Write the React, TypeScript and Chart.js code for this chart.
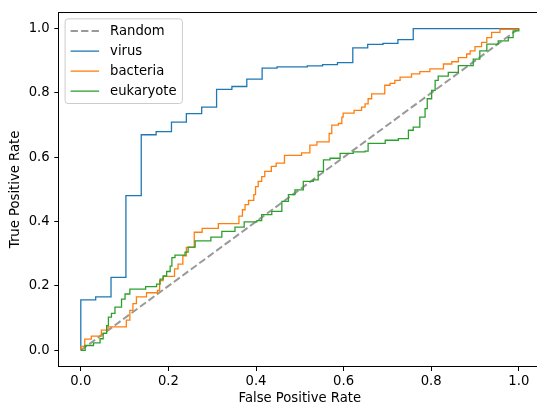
import React, { useEffect, useRef } from 'react';
import { Chart, registerables } from 'chart.js';

Chart.register(...registerables);

// ---------- data ----------
const randomFpr = [0, 1];
const randomTpr = [0, 1];

const virusFpr = [0, 0, 0.034, 0.069, 0.103, 0.138, 0.172, 0.207, 0.241, 0.276, 0.310, 0.345, 0.379, 0.414, 0.448, 0.517, 0.552, 0.586, 0.621, 0.655, 0.690, 0.724, 0.759, 1.0];
const virusTpr = [0, 0.157, 0.166, 0.227, 0.481, 0.670, 0.680, 0.709, 0.736, 0.756, 0.811, 0.820, 0.843, 0.877, 0.881, 0.884, 0.888, 0.894, 0.940, 0.951, 0.954, 0.966, 1.0, 1.0];

const bacteriaFpr = [0, 0, 0.009, 0.024, 0.047, 0.062, 0.104, 0.112, 0.119, 0.127, 0.150, 0.175, 0.180, 0.188, 0.214, 0.222, 0.233, 0.241, 0.259, 0.277, 0.314, 0.361, 0.369, 0.375, 0.383, 0.395, 0.399, 0.405, 0.413, 0.420, 0.435, 0.446, 0.465, 0.504, 0.523, 0.539, 0.567, 0.573, 0.588, 0.596, 0.599, 0.624, 0.641, 0.649, 0.656, 0.664, 0.694, 0.706, 0.717, 0.729, 0.755, 0.774, 0.797, 0.828, 0.847, 0.862, 0.881, 0.889, 0.900, 0.915, 0.927, 0.938, 0.957, 1.0];
const bacteriaTpr = [0, 0.012, 0.035, 0.044, 0.063, 0.073, 0.094, 0.124, 0.145, 0.166, 0.179, 0.186, 0.217, 0.230, 0.253, 0.268, 0.294, 0.320, 0.367, 0.379, 0.394, 0.417, 0.437, 0.453, 0.466, 0.484, 0.509, 0.525, 0.540, 0.556, 0.572, 0.582, 0.606, 0.614, 0.638, 0.648, 0.674, 0.700, 0.705, 0.725, 0.737, 0.746, 0.756, 0.766, 0.782, 0.797, 0.824, 0.830, 0.839, 0.849, 0.859, 0.866, 0.875, 0.890, 0.897, 0.910, 0.921, 0.931, 0.944, 0.957, 0.972, 0.988, 0.998, 1.0];

const eukaryoteFpr = [0, 0.010, 0.029, 0.044, 0.051, 0.059, 0.063, 0.070, 0.078, 0.093, 0.101, 0.112, 0.148, 0.173, 0.181, 0.188, 0.196, 0.204, 0.208, 0.215, 0.238, 0.245, 0.261, 0.297, 0.322, 0.352, 0.373, 0.402, 0.413, 0.436, 0.459, 0.474, 0.489, 0.508, 0.531, 0.542, 0.554, 0.569, 0.592, 0.622, 0.649, 0.656, 0.695, 0.725, 0.748, 0.759, 0.774, 0.786, 0.791, 0.801, 0.809, 0.816, 0.839, 0.862, 0.896, 0.911, 0.927, 0.953, 0.976, 0.987, 1.0];
const eukaryoteTpr = [0, 0.015, 0.023, 0.036, 0.053, 0.077, 0.103, 0.115, 0.134, 0.159, 0.175, 0.190, 0.198, 0.206, 0.221, 0.231, 0.245, 0.262, 0.288, 0.296, 0.305, 0.321, 0.340, 0.352, 0.370, 0.383, 0.399, 0.403, 0.422, 0.432, 0.463, 0.484, 0.499, 0.525, 0.530, 0.556, 0.592, 0.597, 0.612, 0.617, 0.619, 0.643, 0.653, 0.658, 0.684, 0.694, 0.725, 0.751, 0.782, 0.808, 0.839, 0.852, 0.864, 0.885, 0.905, 0.931, 0.952, 0.962, 0.972, 0.993, 1.0];

const tickValues = [0, 0.2, 0.4, 0.6, 0.8, 1.0];
const seriesNames = ['Random', 'virus', 'bacteria', 'eukaryote'];
const xTitle = 'False Positive Rate';
const yTitle = 'True Positive Rate';

// ---------- styles ----------
const FONT = "'DejaVu Sans', 'Liberation Sans', sans-serif";
const FS = 13.2;
const COLORS = ['rgba(128,128,128,0.8)', '#1f77b4', '#ff7f0e', '#2ca02c'];
const WIDTHS = [2, 1.3, 1.3, 1.3];
const DASH = [7.3, 3.2];

const toPts = (xs: number[], ys: number[]) => xs.map((x, i) => ({ x, y: ys[i] }));

const framePlugin = {
  id: 'frameAndLegend',
  afterDraw(chart: any) {
    const { ctx, chartArea } = chart;
    ctx.save();
    // top and right spines
    ctx.strokeStyle = '#000';
    ctx.lineWidth = 1;
    ctx.beginPath();
    ctx.moveTo(chartArea.left, chartArea.top);
    ctx.lineTo(chartArea.right, chartArea.top);
    ctx.lineTo(chartArea.right, chartArea.bottom);
    ctx.stroke();

    // legend box
    const bx = chartArea.left + 6.2;
    const by = chartArea.top + 6.3;
    const bw = 117.3;
    const bh = 84.7;
    const r = 3;
    ctx.beginPath();
    ctx.moveTo(bx + r, by);
    ctx.lineTo(bx + bw - r, by);
    ctx.arcTo(bx + bw, by, bx + bw, by + r, r);
    ctx.lineTo(bx + bw, by + bh - r);
    ctx.arcTo(bx + bw, by + bh, bx + bw - r, by + bh, r);
    ctx.lineTo(bx + r, by + bh);
    ctx.arcTo(bx, by + bh, bx, by + bh - r, r);
    ctx.lineTo(bx, by + r);
    ctx.arcTo(bx, by, bx + r, by, r);
    ctx.closePath();
    ctx.fillStyle = 'rgba(255,255,255,0.8)';
    ctx.fill();
    ctx.strokeStyle = '#cccccc';
    ctx.lineWidth = 1;
    ctx.stroke();

    ctx.font = `${FS}px ${FONT}`;
    ctx.textBaseline = 'middle';
    ctx.textAlign = 'left';
    seriesNames.forEach((name, i) => {
      const cy = by + 12.3 + i * 20;
      ctx.beginPath();
      ctx.strokeStyle = COLORS[i];
      ctx.lineWidth = WIDTHS[i];
      ctx.setLineDash(i === 0 ? DASH : []);
      ctx.moveTo(bx + 5.5, cy);
      ctx.lineTo(bx + 34, cy);
      ctx.stroke();
      ctx.setLineDash([]);
      ctx.fillStyle = '#000';
      ctx.fillText(name, bx + 45, cy + 0.5);
    });
    ctx.restore();
  },
};

export default function App() {
  const canvasRef = useRef<HTMLCanvasElement | null>(null);

  useEffect(() => {
    if (!canvasRef.current) return;
    const series = [
      toPts(randomFpr, randomTpr),
      toPts(virusFpr, virusTpr),
      toPts(bacteriaFpr, bacteriaTpr),
      toPts(eukaryoteFpr, eukaryoteTpr),
    ];
    const datasets = series.map((data, i) => ({
      label: seriesNames[i],
      data,
      showLine: true,
      borderColor: COLORS[i],
      backgroundColor: COLORS[i],
      borderWidth: WIDTHS[i],
      borderDash: i === 0 ? DASH : [],
      pointRadius: 0,
      pointHoverRadius: 0,
      stepped: i === 0 ? false : 'before',
      fill: false,
      order: 4 - i,
    }));

    const axisCommon = (title: string, isX: boolean) => ({
      type: 'linear' as const,
      min: -0.05,
      max: 1.05,
      afterBuildTicks: (scale: any) => {
        scale.ticks = tickValues.map((v) => ({ value: v }));
      },
      afterFit: (scale: any) => {
        if (isX) scale.height = 39.6;
        else scale.width = 58.9;
      },
      grid: {
        display: true,
        drawOnChartArea: false,
        drawTicks: true,
        tickLength: 4.6,
        color: '#000',
        lineWidth: 1,
      },
      border: { display: true, color: '#000', width: 1 },
      ticks: {
        color: '#000',
        font: { family: FONT, size: FS },
        padding: isX ? 2.8 : 4.6,
        maxRotation: 0,
        autoSkip: false,
        callback: (v: any) => Number(v).toFixed(1),
      },
      title: {
        display: true,
        text: title,
        color: '#000',
        font: { family: FONT, size: FS, lineHeight: 1 },
        padding: isX ? { top: 0, bottom: 0.7 } : { top: 9.1, bottom: 0 },
      },
    });

    const chart = new Chart(canvasRef.current, {
      type: 'scatter',
      data: { datasets },
      options: {
        responsive: false,
        animation: false,
        devicePixelRatio: 1,
        layout: { padding: { top: 9.7, right: 4.3, left: 0, bottom: 0 } },
        plugins: {
          legend: { display: false },
          tooltip: { enabled: false },
        },
        scales: {
          x: axisCommon(xTitle, true),
          y: axisCommon(yTitle, false),
        },
      },
      plugins: [framePlugin],
    } as any);

    return () => chart.destroy();
  }, []);

  return (
    <div
      style={{
        position: 'fixed',
        left: 0,
        top: 0,
        width: 537,
        height: 406,
        overflow: 'hidden',
        background: '#fff',
      }}
    >
      <canvas
        ref={canvasRef}
        width={545}
        height={406}
        style={{ display: 'block', width: 545, height: 406 }}
      />
    </div>
  );
}
